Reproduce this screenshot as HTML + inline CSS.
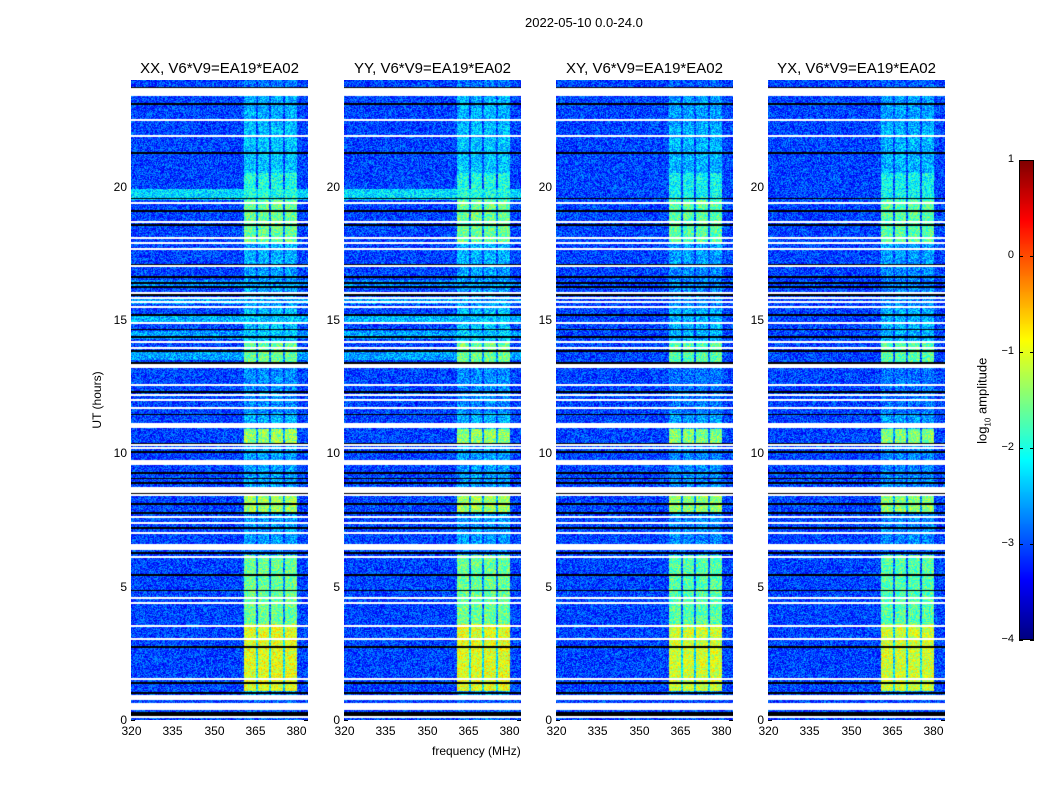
<!DOCTYPE html>
<html><head><meta charset="utf-8">
<style>
body{margin:0;background:#fff;font-family:"Liberation Sans","DejaVu Sans",sans-serif;}
#root{position:relative;width:1050px;height:800px;overflow:hidden;background:#fff;}
.t{position:absolute;font-size:12px;color:#000;white-space:nowrap;}
canvas{position:absolute;}
</style></head><body>
<div id="root">
<div class="t" style="left:525px;top:15px;font-size:13px;">2022-05-10 0.0-24.0</div>
<div class="t" style="left:432px;top:744px;font-size:12px;">frequency (MHz)</div>
<div class="t" style="left:62px;top:393px;transform:rotate(-90deg);transform-origin:center;width:70px;text-align:center;">UT (hours)</div>
<div class="t" style="left:936px;top:392px;transform:rotate(-90deg);width:95px;text-align:center;font-size:13px;">log<sub style="font-size:8px">10</sub> amplitude</div>
<canvas id="cb" width="15" height="480" style="left:1019px;top:160px;"></canvas>
<svg id="ov" width="1050" height="800" style="position:absolute;left:0;top:0"></svg>
</div>
<script>
// ---- data ----
const panelTitles = ["XX, V6*V9=EA19*EA02","YY, V6*V9=EA19*EA02","XY, V6*V9=EA19*EA02","YX, V6*V9=EA19*EA02"];
const panelLefts = [131,344,556,768];
const xTicks = [320,335,350,365,380];
const yTicks = [0,5,10,15,20];
const cbTicks = [1,0,-1,-2,-3,-4];
const subBands = [[361.2,365.5],[366.1,370.3],[370.9,375.3],[376,380.4]];
const bandStart = [0,0.8,1.1,3.6,6.2,6.6,7.8,8.4,10.3,10.9,11.5,13.4,14.2,15.4,17.0,17.9,19.5,20.5,22.3,23.5];
const bandEnd   = [0.8,1.1,3.6,6.2,6.6,7.8,8.4,10.3,10.9,11.5,13.4,14.2,15.4,17.0,17.9,19.5,20.5,22.3,23.5,24];
const bandLevel = [-2.9,-2.6,-1.0,-1.6,-2.8,-2.6,-1.35,-2.6,-1.4,-2.5,-2.7,-1.6,-2.4,-2.6,-2.5,-1.6,-2.0,-2.4,-2.5,-2.8];
const panelOffset = [0,0,-0.1,-0.1];
const bgLevel = -3.05;
const stripeStart = [13.5,14.3,14.9,15.6,16.2,19.5];
const stripeEnd   = [13.8,14.6,15.2,15.8,16.5,19.9];
const stripeLevel = [-2.6,-2.6,-2.5,-2.6,-2.7,-2.3];
const stripePanels = [1,1,0,0];
const whiteRows = [[23.4,23.7],[22.46,22.54],[21.86,21.94],[19.34,19.42],[18.63,18.71],[18.03,18.11],[17.85,17.93],[17.62,17.7],[16.98,17.06],[15.97,16.05],[15.78,15.86],[15.63,15.71],[15.45,15.53],[14.85,14.93],[14.14,14.22],[13.91,13.99],[13.2,13.35],[12.52,12.6],[12.15,12.23],[11.96,12.04],[11.66,11.74],[10.95,11.14],[10.27,10.35],[10.16,10.24],[9.56,9.75],[8.51,8.74],[8.4,8.48],[7.57,7.65],[7.35,7.43],[6.97,7.05],[6.37,6.6],[6.07,6.15],[4.53,4.61],[4.35,4.43],[3.48,3.56],[3.0,3.08],[1.5,1.58],[0.75,0.94],[0.37,0.64],[0.07,0.15]];
const blackRows = [23.73,23.1,21.26,19.57,19.09,18.56,17.06,16.61,16.39,16.24,15.94,15.19,14.63,14.36,13.84,13.39,12.3,11.47,10.35,10.05,9.26,9.07,8.89,8.51,8.1,7.76,7.2,6.26,5.44,4.87,2.74,1.39,1.01,0.26,0.19];

// ---- axes ----
const TOP=80, BOT=720, W=177;
const yScale = h => BOT - h*(BOT-TOP)/24;
const xScale = (f,left) => left + (f-320)*2.75;
const cbScale = v => 160 + (1-v)*96;

function jet(v){
  let t=(v+4)/5; t=Math.max(0,Math.min(1,t));
  const c=x=>Math.max(0,Math.min(1,x));
  const r=c(1.5-Math.abs(4*t-3)), g=c(1.5-Math.abs(4*t-2)), b=c(1.5-Math.abs(4*t-1));
  return [r*255|0,g*255|0,b*255|0];
}
function hash(x,y){let n=(x*374761393+y*668265263)|0;n=(n^(n>>>13))*1274126177|0;return ((n^(n>>>16))>>>0)/4294967296;}
function findSeg(h,s,e){for(let i=0;i<s.length;i++)if(h>=s[i]&&h<e[i])return i;return -1;}

const root=document.getElementById('root');
const ov=document.getElementById('ov');
const NS="http://www.w3.org/2000/svg";
function line(x1,y1,x2,y2,name){const l=document.createElementNS(NS,'line');l.setAttribute('x1',x1);l.setAttribute('y1',y1);l.setAttribute('x2',x2);l.setAttribute('y2',y2);l.setAttribute('stroke','#000');l.setAttribute('stroke-width','1');


ov.appendChild(l);}
function label(txt,x,y,align,name,size){const d=document.createElement('div');d.className='t';d.textContent=txt;d.style.top=(y-8)+'px';d.style.fontSize=(size||12)+'px';
if(align==='c'){d.style.left=(x-30)+'px';d.style.width='60px';d.style.textAlign='center';}
else{d.style.left=(x-60)+'px';d.style.width='60px';d.style.textAlign='right';}


root.appendChild(d);}

panelLefts.forEach((L,p)=>{
  const cv=document.createElement('canvas');cv.width=W;cv.height=BOT-TOP;cv.style.left=L+'px';cv.style.top=TOP+'px';
  
  
  root.appendChild(cv);
  const ctx=cv.getContext('2d');const img=ctx.createImageData(W,BOT-TOP);
  for(let py=0;py<BOT-TOP;py++){
    const h=24-(py+0.5)*24/(BOT-TOP);
    const bi=findSeg(h,bandStart,bandEnd);
    const bl=(bi>=0?bandLevel[bi]:-2.8)+panelOffset[p];
    let bg=bgLevel;
    if(stripePanels[p]){const si=findSeg(h,stripeStart,stripeEnd);if(si>=0)bg=stripeLevel[si];}
    let row=null;
    for(const w of whiteRows){if(h>=w[0]&&h<w[1]){row=[255,255,255];break;}}
    if(!row)for(const b of blackRows){if(Math.abs(yScale(b)-(TOP+py+0.5))<0.6){row=[0,0,0];break;}}
    for(let px=0;px<W;px++){
      let col=row;
      if(!col){
        const f=320+(px+0.5)/2.75;
        let v=bg, inSub=false;
        for(const s of subBands)if(f>=s[0]&&f<s[1])inSub=true;
        if(inSub)v=Math.max(bg,bl);
        else if(f>=subBands[0][0]&&f<subBands[3][1])v=Math.max(bg,bl-1.2);
        v+=(hash(px+p*1000,py)-0.5)*1.0;
        col=jet(v);
      }
      const k=(py*W+px)*4;img.data[k]=col[0];img.data[k+1]=col[1];img.data[k+2]=col[2];img.data[k+3]=255;
    }
  }
  ctx.putImageData(img,0,0);
  const r=document.createElementNS(NS,'rect');r.setAttribute('x',L+0.5);r.setAttribute('y',TOP+0.5);r.setAttribute('width',W-1);r.setAttribute('height',BOT-TOP-1);r.setAttribute('fill','none');r.setAttribute('stroke','#000');
  
  
  ov.appendChild(r);
  xTicks.forEach(t=>{const x=Math.round(xScale(t,L))+0.5;line(x,BOT,x,BOT-4,'x-tick');line(x,TOP,x,TOP+4,'x-tick');label(String(t),x,BOT+12,'c','x-tick-label');});
  yTicks.forEach(t=>{const y=Math.round(yScale(t))+0.5;line(L,y,L+4,y,'y-tick');line(L+W,y,L+W-4,y,'y-tick');label(String(t),L-4,y,'r','y-tick-label');});
  label(panelTitles[p],L+W/2,TOP-12,'c','panel-title',15);
  root.lastChild.style.left=(L-30)+'px';root.lastChild.style.width=(W+60)+'px';
});

const cb=document.getElementById('cb').getContext('2d');
for(let y=0;y<480;y++){const v=1-(y+0.5)/96;const c=jet(v);cb.fillStyle=`rgb(${c[0]},${c[1]},${c[2]})`;cb.fillRect(0,y,15,1);}
const cr=document.createElementNS(NS,'rect');cr.setAttribute('x',1019.5);cr.setAttribute('y',160.5);cr.setAttribute('width',14);cr.setAttribute('height',479);cr.setAttribute('fill','none');cr.setAttribute('stroke','#000');


ov.appendChild(cr);
cbTicks.forEach(t=>{const y=Math.round(cbScale(t))+0.5;line(1019,y,1023,y,'colorbar-tick');line(1034,y,1030,y,'colorbar-tick');label(t<0?'\u2212'+(-t):String(t),1014,y,'r','colorbar-tick-label',11);});
</script>
</body></html>
